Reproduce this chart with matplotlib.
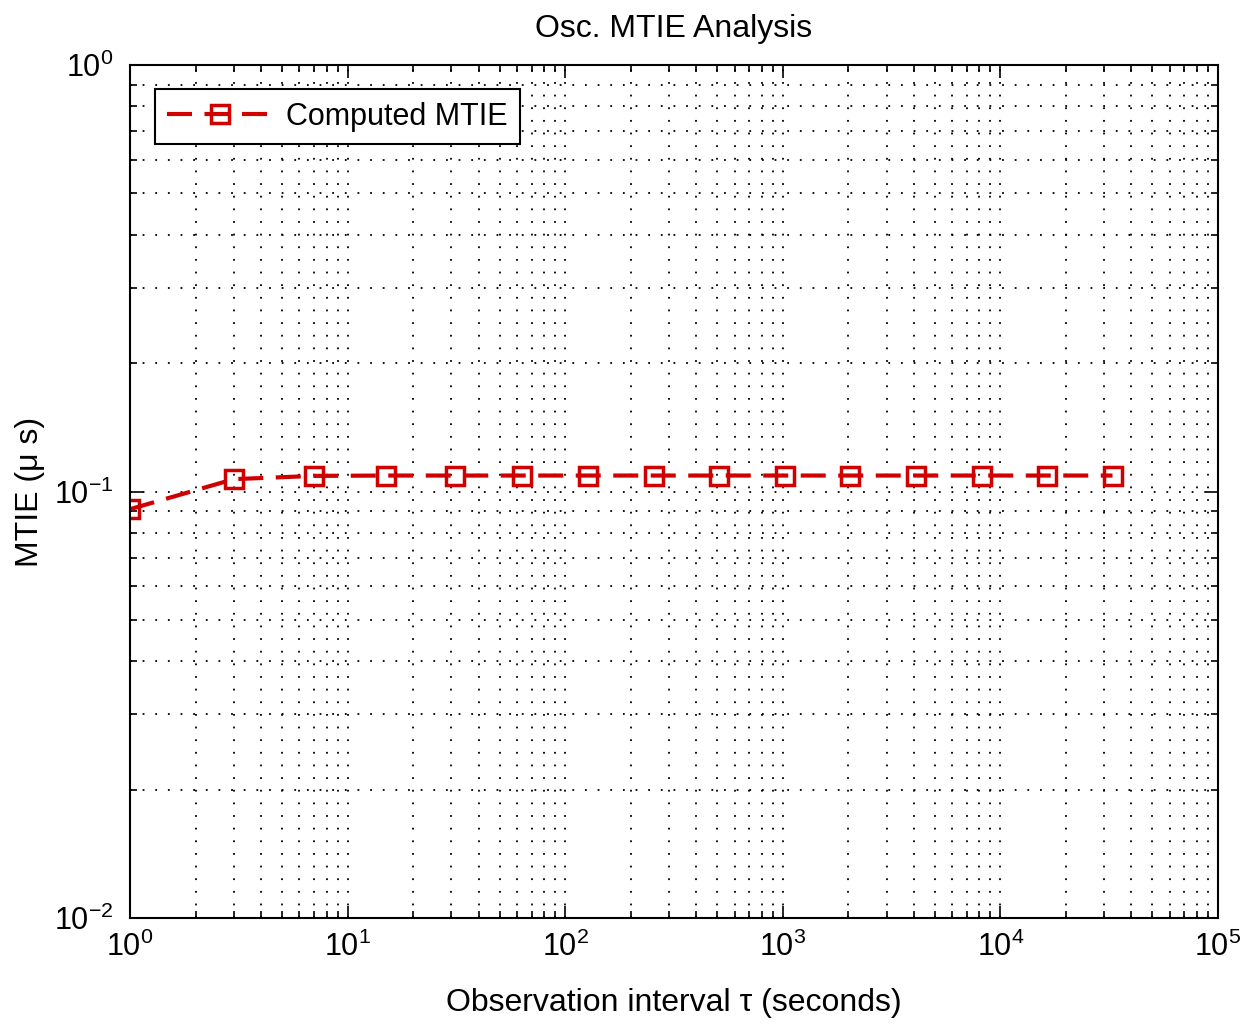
import matplotlib
matplotlib.use("Agg")
import matplotlib.pyplot as plt
from matplotlib.ticker import LogLocator, NullFormatter, FuncFormatter
import math

plt.rcParams['font.family'] = ['Liberation Sans', 'DejaVu Sans']
plt.rcParams['mathtext.fontset'] = 'custom'
plt.rcParams['mathtext.rm'] = 'Liberation Sans'

tau = [1, 3, 7, 15, 31, 63, 127, 255, 511, 1023, 2047, 4095, 8191, 16383, 32767]
mtie = [0.0909, 0.1069, 0.1088, 0.109, 0.109, 0.109, 0.109, 0.109, 0.109,
        0.109, 0.109, 0.109, 0.109, 0.109, 0.109]

fig = plt.figure(figsize=(12.47, 10.26), dpi=100)
ax = fig.add_axes([0.1043, 0.1053, 0.8724, 0.8313])

ax.plot(tau, mtie, color='#d00000', linestyle='--', dashes=(6, 3), linewidth=3,
        marker='s', markersize=13, markerfacecolor='none', markeredgecolor='#d00000',
        markeredgewidth=2.5, label='Computed MTIE')

ax.set_xscale('log')
ax.set_yscale('log')
ax.set_xlim(1, 1e5)
ax.set_ylim(1e-2, 1)

def fmt(v, pos):
    e = int(round(math.log10(v)))
    return r'$\mathregular{10^{%d}}$' % e

ax.xaxis.set_major_locator(LogLocator(base=10, numticks=20))
ax.xaxis.set_minor_locator(LogLocator(base=10, subs=range(2, 10), numticks=20))
ax.xaxis.set_major_formatter(FuncFormatter(fmt))
ax.yaxis.set_major_formatter(FuncFormatter(fmt))
ax.xaxis.set_minor_formatter(NullFormatter())
ax.yaxis.set_minor_formatter(NullFormatter())

ax.grid(True, which='both', linestyle=(0, (1, 6)), color='black', linewidth=1.3)
ax.tick_params(which='both', direction='in', top=True, right=True, labelsize=22)
ax.tick_params(axis='x', which='major', pad=10)
ax.tick_params(axis='y', which='major', pad=12)
ax.tick_params(which='major', length=9, width=1.2)
ax.tick_params(which='minor', length=5, width=1.2)
for s in ax.spines.values():
    s.set_linewidth(1.5)

ax.set_title('Osc. MTIE Analysis', fontsize=23, pad=20)
ax.set_xlabel('Observation interval τ (seconds)', fontsize=23, labelpad=18)
ax.set_ylabel('MTIE (μ s)', fontsize=23, labelpad=6)

leg = ax.legend(loc='upper left', fontsize=22, fancybox=False, framealpha=1,
                edgecolor='black', borderaxespad=0.8, handlelength=3.5,
                borderpad=0.4, handletextpad=0.4)
leg.get_frame().set_linewidth(1.5)

fig.savefig('out.png', dpi=100)
